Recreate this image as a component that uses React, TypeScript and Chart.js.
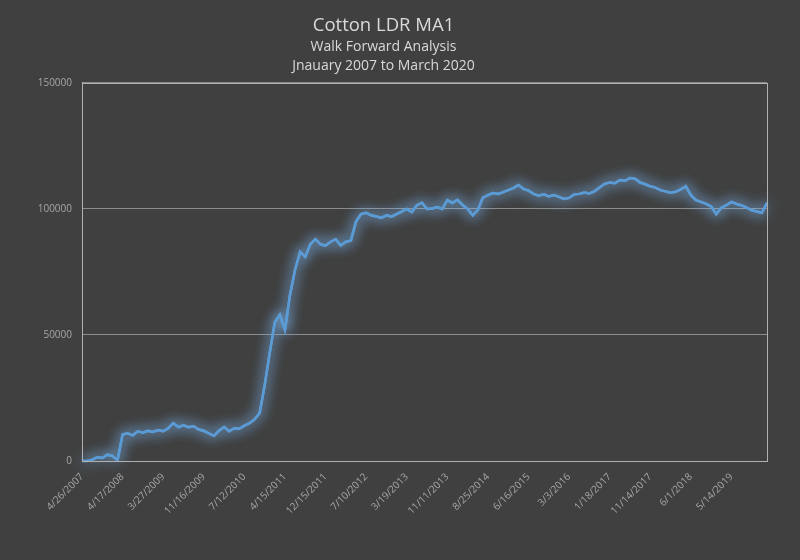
import React, { useEffect, useRef } from "react";
import { Chart, registerables } from "chart.js";

Chart.register(...registerables);

const titleText = "Cotton LDR MA1";
const subtitleLines = ["Walk Forward Analysis", "Jnauary 2007 to March 2020"];

const tickLabels = [
  "4/26/2007", "4/17/2008", "3/27/2009", "11/16/2009", "7/12/2010", "4/15/2011",
  "12/15/2011", "7/10/2012", "3/19/2013", "11/11/2013", "8/25/2014", "6/16/2015",
  "3/3/2016", "1/18/2017", "11/14/2017", "6/1/2018", "5/14/2019",
];
const pointsPerLabel = 8;

const equity = [
  0, 0, 500, 1500, 1200, 2500, 2000, 300,
  10500, 11000, 10200, 11800, 11200, 12000, 11500, 12300,
  11800, 13000, 15000, 13500, 14200, 13400, 13800, 12500,
  12000, 11000, 10000, 12000, 13500, 11800, 13000, 12800,
  14000, 15000, 16500, 19000, 30000, 43000, 55000, 58000,
  52000, 66000, 76000, 83000, 81000, 86000, 88000, 86000,
  85500, 87000, 88000, 85500, 87000, 87500, 95000, 98000,
  98500, 97500, 97000, 96500, 97500, 97000, 98000, 99000,
  100000, 98800, 101500, 102500, 100000, 100200, 100800, 100000,
  103500, 102400, 103600, 101600, 100000, 97500, 99600, 104500,
  105500, 106300, 106000, 106700, 107500, 108300, 109500, 108000,
  107300, 106000, 105300, 105800, 105000, 105500, 104800, 104000,
  104400, 105800, 106000, 106500, 106200, 107000, 108500, 110000,
  110500, 110200, 111500, 111200, 112300, 112000, 110500, 109800,
  109000, 108500, 107500, 107000, 106500, 106800, 107800, 109000,
  105500, 103500, 102800, 102000, 101000, 98000, 100500, 101500,
  102800, 102000, 101400, 100500, 99500, 99000, 98500, 102500,
];

const yTicks = [0, 50000, 100000, 150000];

const BG = "#404040";
const TEXT = "#a6a6a6";
const GRID = "#8c8c8c";
const LINE = "#5b9bd5";
const FONT = "'Open Sans', 'Liberation Sans', sans-serif";

const categoryLabels = equity.map((_, i) =>
  i % pointsPerLabel === 0 && tickLabels[i / pointsPerLabel] ? tickLabels[i / pointsPerLabel] : ""
);

const glowPlugin = {
  id: "glow",
  beforeDatasetDraw(chart: any) {
    const ctx = chart.ctx;
    ctx.save();
    ctx.shadowColor = "rgba(125,185,245,1)";
    ctx.shadowBlur = 13;
  },
  afterDatasetDraw(chart: any, args: any) {
    args.meta.controller.draw();
    chart.ctx.restore();
  },
};

const boxPlugin = {
  id: "box",
  afterDraw(chart: any) {
    const { ctx, chartArea } = chart;
    ctx.save();
    ctx.strokeStyle = "#b0b0b0";
    ctx.lineWidth = 1;
    ctx.strokeRect(
      Math.round(chartArea.left) + 0.5,
      Math.round(chartArea.top) + 0.5,
      Math.round(chartArea.right - chartArea.left),
      Math.round(chartArea.bottom - chartArea.top)
    );
    ctx.restore();
  },
};

const bgPlugin = {
  id: "bg",
  beforeDraw(chart: any) {
    const { ctx, width, height } = chart;
    ctx.save();
    ctx.fillStyle = BG;
    ctx.fillRect(0, 0, width, height);
    ctx.restore();
  },
};

export default function App() {
  const ref = useRef<HTMLCanvasElement | null>(null);

  useEffect(() => {
    if (!ref.current) return;
    const chart = new Chart(ref.current, {
      type: "line",
      data: {
        labels: categoryLabels,
        datasets: [
          {
            label: "Equity",
            data: equity,
            borderColor: LINE,
            borderWidth: 2.5,
            pointRadius: 0,
            tension: 0,
            fill: false,
          },
        ],
      },
      plugins: [bgPlugin, glowPlugin, boxPlugin],
      options: {
        animation: false,
        responsive: false,
        maintainAspectRatio: false,
        layout: { padding: { left: 0, right: 33, top: 0, bottom: 0 } },
        plugins: {
          legend: { display: false },
          tooltip: { enabled: false },
          title: {
            display: true,
            text: titleText,
            color: "#d9d9d9",
            font: { family: FONT, size: 18.5, weight: "normal", lineHeight: 1.1 },
            padding: { top: 16, bottom: 1 },
          },
          subtitle: {
            display: true,
            text: subtitleLines,
            color: "#d9d9d9",
            font: { family: FONT, size: 14, weight: "normal", lineHeight: 1.38 },
            padding: { top: 0, bottom: 7 },
          },
        },
        scales: {
          x: {
            type: "category",
            offset: false,
            grid: { display: false, drawTicks: false },
            border: { display: true, color: "#b0b0b0" },
            ticks: {
              autoSkip: false,
              maxRotation: 45,
              minRotation: 45,
              padding: 10,
              color: TEXT,
              font: { family: FONT, size: 10 },
            },
            afterFit(scale: any) {
              scale.height = 99;
            },
          },
          y: {
            min: 0,
            max: 150000,
            afterBuildTicks(scale: any) {
              scale.ticks = yTicks.map((v) => ({ value: v }));
            },
            grid: { color: GRID, drawTicks: false, lineWidth: 1 },
            border: { display: true, color: "#b0b0b0" },
            ticks: {
              padding: 10,
              color: TEXT,
              font: { family: FONT, size: 10 },
              callback: (v: any) => String(v),
            },
            afterFit(scale: any) {
              scale.width = 82;
            },
          },
        },
      },
    });
    return () => chart.destroy();
  }, []);

  return (
    <div style={{ position: "fixed", left: 0, top: 0, width: 800, height: 560, background: BG }}>
      <canvas ref={ref} width={800} height={560} style={{ display: "block", width: 800, height: 560 }} />
    </div>
  );
}
